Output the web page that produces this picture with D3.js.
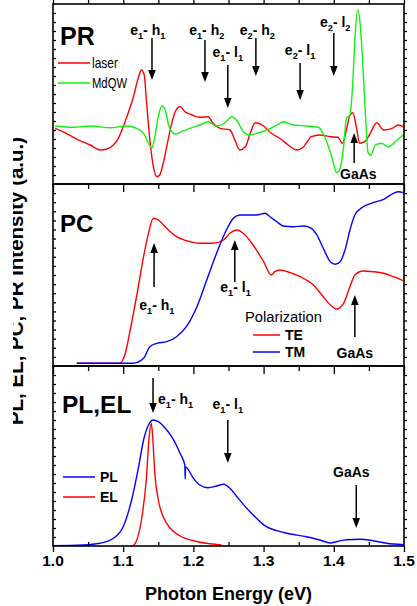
<!DOCTYPE html>
<html><head><meta charset="utf-8">
<script src="https://cdn.jsdelivr.net/npm/d3@7"></script>
<style>
body{margin:0;background:#fff}
svg{display:block}
text{font-family:"Liberation Sans",Arial,Helvetica,sans-serif;fill:#000}
</style></head>
<body><svg id="c" width="417" height="606"></svg>
<script>
// ---------------- DATA ----------------
const xTickLabels = [1.0, 1.1, 1.2, 1.3, 1.4, 1.5];
const xAxisTitle = "Photon Energy  (eV)";
const yAxisTitle = "PL, EL, PC, PR Intensity (a.u.)";

// PR panel: [photon energy eV, PR signal a.u.]
const prLaser = [[1.003,1.7],[1.019,-3.3],[1.038,-10.7],[1.053,-15],[1.067,-20],[1.076,-19.3],[1.086,-15],[1.093,-8.3],[1.100,3.3],[1.107,16.7],[1.114,31.7],[1.122,53.3],[1.126,60],[1.130,55],[1.133,30],[1.138,-10],[1.143,-36.7],[1.148,-46.7],[1.152,-45],[1.157,-33.3],[1.162,-16.7],[1.168,3.3],[1.174,18.3],[1.181,23.3],[1.188,18.3],[1.198,15],[1.209,12.7],[1.221,13.3],[1.228,6.7],[1.238,1.7],[1.252,0],[1.259,-10],[1.266,-20],[1.274,-16.7],[1.281,-3.3],[1.288,7.3],[1.300,4],[1.311,-3.3],[1.323,-8.3],[1.335,-15],[1.347,-20],[1.357,-16.7],[1.368,-6.7],[1.380,-5],[1.395,-6.7],[1.406,-7.3],[1.412,-13.3],[1.418,0],[1.423,15],[1.427,17.3],[1.432,3.3],[1.437,-13.3],[1.444,-11.7],[1.452,-3.3],[1.461,7.3],[1.471,0],[1.483,1.7],[1.492,5],[1.499,3.3]];
const prMdQW = [[1.003,4],[1.029,2.7],[1.053,4],[1.081,2.3],[1.105,4],[1.119,1.7],[1.129,-3.3],[1.136,-13.3],[1.141,-17.7],[1.145,-6.7],[1.150,13.3],[1.155,24],[1.160,20],[1.164,6.7],[1.169,-1.7],[1.175,-4],[1.183,-1.7],[1.195,1.7],[1.209,5],[1.221,8.3],[1.233,4],[1.245,7.3],[1.255,13.3],[1.263,8.3],[1.271,-1.7],[1.280,-5],[1.290,-3.3],[1.304,0],[1.319,5],[1.328,8.3],[1.342,5],[1.361,4],[1.378,2.7],[1.387,-6.7],[1.397,-26.7],[1.404,-42.7],[1.409,-38.3],[1.414,-16.7],[1.418,11.7],[1.423,15],[1.427,46.7],[1.430,90],[1.434,120],[1.437,110],[1.441,70],[1.445,16.7],[1.449,-23.3],[1.453,-25],[1.459,-15],[1.468,-13.3],[1.478,-16.7],[1.490,-10],[1.499,-5]];

// PC panel
const pcTM = [[1.034,2.7],[1.114,2.7],[1.129,7.7],[1.138,19.3],[1.148,22.7],[1.162,24.3],[1.176,29.3],[1.190,39.3],[1.205,59.3],[1.219,86],[1.233,112.7],[1.247,136],[1.257,147.7],[1.266,151],[1.281,151],[1.290,151],[1.302,152.7],[1.309,149.3],[1.319,144.3],[1.328,140],[1.342,139.3],[1.357,140],[1.368,137.7],[1.376,131],[1.385,117.7],[1.395,104.3],[1.402,101.7],[1.409,104.3],[1.416,116],[1.423,136],[1.430,151],[1.442,159.3],[1.456,163.3],[1.471,166.7],[1.485,172.7],[1.492,174.3],[1.499,173.3]];
const pcTE = [[1.034,2.7],[1.095,2.7],[1.103,12.7],[1.110,36],[1.119,69.3],[1.129,109.3],[1.136,132.7],[1.143,147.7],[1.150,146],[1.162,137.7],[1.176,129.3],[1.190,125.3],[1.209,122.7],[1.228,122.7],[1.243,126],[1.252,132.7],[1.262,136],[1.271,132.7],[1.285,121],[1.300,104.3],[1.311,91],[1.316,94.3],[1.323,96],[1.338,93.3],[1.352,89.3],[1.371,81],[1.385,69.3],[1.395,61],[1.404,57],[1.414,62.7],[1.423,79.3],[1.430,91],[1.442,95],[1.456,94.3],[1.471,92.7],[1.485,89.3],[1.499,85.3]];

// PL / EL panel
const plPL = [[1.000,0.3],[1.043,1],[1.067,2.7],[1.086,7.7],[1.100,19.3],[1.112,46],[1.122,79.3],[1.129,106],[1.136,121],[1.143,126],[1.150,124.3],[1.160,117.7],[1.169,109.3],[1.181,92.7],[1.1878,81],[1.1883,67],[1.1888,79],[1.200,67.7],[1.209,61],[1.221,58.3],[1.233,60],[1.243,61.7],[1.252,57.7],[1.262,49.3],[1.276,37.7],[1.290,27.7],[1.304,19.3],[1.319,15.3],[1.338,12],[1.361,9.3],[1.380,6],[1.395,3],[1.404,4.3],[1.418,6.3],[1.437,6.7],[1.456,5.3],[1.475,2.7],[1.499,1.3]];
const plEL = [[1.114,0],[1.119,5.3],[1.126,26],[1.133,67.3],[1.137,109.3],[1.140,122.7],[1.142,109],[1.145,72.7],[1.150,46],[1.157,29.3],[1.167,17.7],[1.181,10],[1.200,5.3],[1.219,2.7],[1.240,1]];

// ---------------- LAYOUT ----------------
const svg = d3.select("#c");
const L = 53, R = 404;
const x = d3.scaleLinear().domain([1.0, 1.5]).range([L, R]);
const panels = {
  PR: {top: 4,   bottom: 184, domain: [-54, 126]},
  PC: {top: 184, bottom: 366, domain: [0, 182]},
  PL: {top: 366, bottom: 546, domain: [0, 180]}
};
Object.values(panels).forEach(p => {
  p.y = d3.scaleLinear().domain(p.domain).range([p.bottom, p.top]);
});
const RED = "#ff0000", GREEN = "#11f011", BLUE = "#0000ff";

const defs = svg.append("defs");
Object.entries(panels).forEach(([k, p]) => {
  defs.append("clipPath").attr("id", "clip" + k).append("rect")
    .attr("x", L).attr("y", p.top).attr("width", R - L).attr("height", p.bottom - p.top);
});
defs.append("clipPath").attr("id", "clipY").append("rect")
  .attr("x", 13).attr("y", 0).attr("width", 40).attr("height", 606);

function drawCurve(panelKey, data, color) {
  const p = panels[panelKey];
  const line = d3.line().x(d => x(d[0])).y(d => p.y(d[1])).curve(d3.curveMonotoneX);
  svg.append("path").datum(data).attr("d", line)
    .attr("fill", "none").attr("stroke", color).attr("stroke-width", 1.4)
    .attr("stroke-linejoin", "round")
    .attr("clip-path", `url(#clip${panelKey})`);
}

drawCurve("PR", prLaser, RED);
drawCurve("PR", prMdQW, GREEN);
drawCurve("PC", pcTE, RED);
drawCurve("PC", pcTM, BLUE);
drawCurve("PL", plPL, BLUE);
drawCurve("PL", plEL, RED);

// ---------------- AXES ----------------
const majors = d3.range(0, 6).map(i => 1.0 + i * 0.1);
const minors = d3.range(0, 5).map(i => 1.05 + i * 0.1);
const all05 = d3.range(0, 11).map(i => 1.0 + i * 0.05);

function styleAxis(g) {
  g.select(".domain").remove();
  g.selectAll(".tick line").attr("stroke", "#000").attr("stroke-width", 1.3);
}

svg.append("g").attr("transform", `translate(0,${panels.PR.top})`)
  .call(d3.axisTop(x).tickValues(all05).tickSize(4).tickFormat("")).call(styleAxis);

["PR", "PC"].forEach(k => {
  const p = panels[k];
  svg.append("g").attr("transform", `translate(0,${p.bottom})`)
    .call(d3.axisBottom(x).tickValues(majors).tickSize(8).tickFormat("")).call(styleAxis);
  svg.append("g").attr("transform", `translate(0,${p.bottom})`)
    .call(d3.axisBottom(x).tickValues(minors).tickSize(5).tickFormat("")).call(styleAxis);
});

svg.append("g").attr("transform", `translate(0,${panels.PL.bottom})`)
  .call(d3.axisBottom(x).tickValues(majors).tickSize(6).tickFormat("")).call(styleAxis);
svg.append("g").attr("transform", `translate(0,${panels.PL.bottom})`)
  .call(d3.axisTop(x).tickValues(minors).tickSize(4).tickFormat("")).call(styleAxis);
const fmt = d3.format(".1f");
svg.append("g").selectAll("text").data(xTickLabels).join("text")
  .attr("x", d => x(d)).attr("y", 566).attr("text-anchor", "middle")
  .attr("font-size", 15.5).attr("font-weight", "bold").text(d => fmt(d));

Object.values(panels).forEach(p => {
  const tv = d3.range(1, 20).map(i => p.domain[0] + (p.domain[1] - p.domain[0]) * i / 20);
  svg.append("g").attr("transform", `translate(${L},0)`)
    .call(d3.axisRight(p.y).tickValues(tv).tickSize(3).tickFormat("")).call(styleAxis);
  svg.append("g").attr("transform", `translate(${R},0)`)
    .call(d3.axisRight(p.y).tickValues(tv).tickSize(3).tickFormat("")).call(styleAxis);
});

Object.values(panels).forEach(p => {
  svg.append("rect").attr("x", L).attr("y", p.top).attr("width", R - L).attr("height", p.bottom - p.top)
    .attr("fill", "none").attr("stroke", "#000").attr("stroke-width", 1.6);
});

svg.append("text").attr("x", (L + R) / 2).attr("y", 600).attr("text-anchor", "middle")
  .attr("font-size", 18).attr("font-weight", "bold").text(xAxisTitle);
svg.append("g").attr("clip-path", "url(#clipY)")
  .append("text").attr("transform", "translate(23,281) rotate(-90)").attr("text-anchor", "middle")
  .attr("font-size", 20.5).attr("font-weight", "bold").text(yAxisTitle);

// ---------------- ANNOTATIONS ----------------
function label(parts, px, py, size, anchor) {
  const t = svg.append("text").attr("x", px).attr("y", py).attr("text-anchor", anchor || "middle")
    .attr("font-size", size).attr("font-weight", "bold");
  let shifted = false;
  parts.forEach(pt => {
    const sub = /^\d$/.test(pt);
    const s = t.append("tspan").text(pt);
    if (sub && !shifted) { s.attr("dy", 4).attr("font-size", size * 0.66); shifted = true; }
    else if (!sub && shifted) { s.attr("dy", -4); shifted = false; }
  });
  return t;
}
function arrow(panelKey, e, yFrom, yTo) {
  const p = panels[panelKey];
  const xx = x(e), y0 = p.y(yFrom), y1 = p.y(yTo);
  const dir = Math.sign(y1 - y0), hl = 10, hw = 3.8;
  svg.append("line").attr("x1", xx).attr("x2", xx).attr("y1", y0).attr("y2", y1 - dir * hl)
    .attr("stroke", "#000").attr("stroke-width", 1.5);
  svg.append("path").attr("d", `M${xx - hw},${y1 - dir * hl}L${xx + hw},${y1 - dir * hl}L${xx},${y1}Z`)
    .attr("fill", "#000");
}
const pv = (k, pix) => panels[k].y.invert(pix);

const prAnn = [
  {parts: ["e","1","- h","1"], e: 1.141, lx: 1.135, ly: 35, a0: 38, a1: 80},
  {parts: ["e","1","- h","2"], e: 1.2165, lx: 1.219, ly: 35, a0: 40, a1: 82},
  {parts: ["e","1","- l","1"], e: 1.249, lx: 1.249, ly: 57, a0: 65, a1: 108},
  {parts: ["e","2","- h","2"], e: 1.289, lx: 1.291, ly: 35, a0: 38, a1: 76},
  {parts: ["e","2","- l","1"], e: 1.352, lx: 1.352, ly: 55, a0: 63, a1: 100},
  {parts: ["e","2","- l","2"], e: 1.400, lx: 1.402, ly: 27, a0: 33, a1: 76}
];
prAnn.forEach(a => {
  label(a.parts, x(a.lx), a.ly, 14);
  arrow("PR", a.e, pv("PR", a.a0), pv("PR", a.a1));
});
arrow("PR", 1.429, pv("PR", 163), pv("PR", 133));
label(["GaAs"], x(1.435), 179, 14);

svg.append("text").attr("x", 60).attr("y", 45).attr("font-size", 25).attr("font-weight", "bold").text("PR");
[[RED, "laser", 63], [GREEN, "MdQW", 83]].forEach(([c, t, yy]) => {
  svg.append("line").attr("x1", 58).attr("x2", 90).attr("y1", yy).attr("y2", yy).attr("stroke", c).attr("stroke-width", 1.5);
  svg.append("text").attr("x", 92).attr("y", yy + 5).attr("font-size", 14.5)
    .attr("font-family", '"Liberation Sans Narrow","Arial Narrow","Liberation Sans",sans-serif')
    .attr("textLength", t === "laser" ? 26 : 35).attr("lengthAdjust", "spacingAndGlyphs").text(t);
});

svg.append("text").attr("x", 60).attr("y", 232).attr("font-size", 24).attr("font-weight", "bold").text("PC");
arrow("PC", 1.144, pv("PC", 287), pv("PC", 243));
label(["e","1","- h","1"], x(1.148), 310, 14);
arrow("PC", 1.259, pv("PC", 282), pv("PC", 240));
label(["e","1","- l","1"], x(1.260), 292, 14);
arrow("PC", 1.430, pv("PC", 337), pv("PC", 295));
label(["GaAs"], x(1.430), 358, 14);
svg.append("text").attr("x", 245).attr("y", 322).attr("font-size", 15.5)
  .attr("textLength", 77).attr("lengthAdjust", "spacingAndGlyphs").text("Polarization");
[[RED, "TE", 335], [BLUE, "TM", 352]].forEach(([c, t, yy]) => {
  svg.append("line").attr("x1", 253).attr("x2", 280).attr("y1", yy).attr("y2", yy).attr("stroke", c).attr("stroke-width", 1.5);
  svg.append("text").attr("x", 285).attr("y", yy + 5).attr("font-size", 14).attr("font-weight", "bold").text(t);
});

svg.append("text").attr("x", 62).attr("y", 413).attr("font-size", 24.5).attr("font-weight", "bold").text("PL,EL");
arrow("PL", 1.1425, pv("PL", 378), pv("PL", 413));
label(["e","1","- h","1"], 158, 404, 14, "start");
label(["e","1","- l","1"], x(1.249), 409, 14);
arrow("PL", 1.249, pv("PL", 420), pv("PL", 463));
label(["GaAs"], x(1.425), 477, 14);
arrow("PL", 1.432, pv("PL", 485), pv("PL", 528));
[[BLUE, "PL", 477], [RED, "EL", 497]].forEach(([c, t, yy]) => {
  svg.append("line").attr("x1", 63).attr("x2", 95).attr("y1", yy).attr("y2", yy).attr("stroke", c).attr("stroke-width", 1.5);
  svg.append("text").attr("x", 100).attr("y", yy + 5).attr("font-size", 14).attr("font-weight", "bold").text(t);
});
</script></body></html>
